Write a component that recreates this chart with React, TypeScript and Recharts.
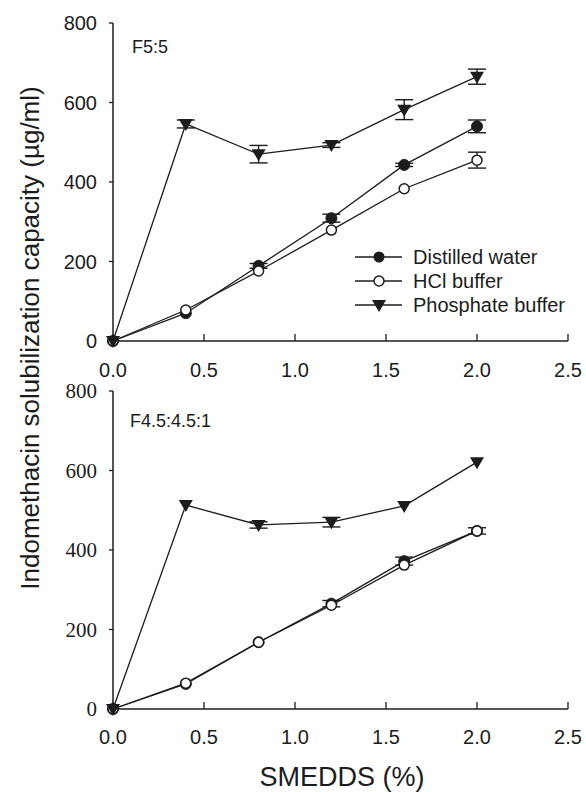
import React from "react";
import { LineChart, Line, XAxis, YAxis, ErrorBar } from "recharts";

// SMEDDS concentration (%) shared by both panels
const smedds = [0, 0.4, 0.8, 1.2, 1.6, 2.0];
const xTicks = [0, 0.5, 1.0, 1.5, 2.0, 2.5];
const yTicks = [0, 200, 400, 600, 800];
const seriesNames = ["Distilled water", "HCl buffer", "Phosphate buffer"];

// panel F5:5
const topWater = [0, 70, 189, 309, 443, 540];
const topHcl = [0, 78, 176, 279, 383, 455];
const topPhos = [0, 546, 470, 493, 582, 665];
const topWaterErr = [0, 0, 6, 10, 4, 16];
const topHclErr = [0, 0, 0, 0, 0, 20];
const topPhosErr = [0, 10, 22, 6, 25, 19];

// panel F4.5:4.5:1
const botWater = [0, 63, 168, 265, 372, 448];
const botHcl = [0, 65, 168, 261, 362, 448];
const botPhos = [0, 513, 463, 470, 511, 621];
const botWaterErr = [0, 0, 0, 8, 10, 0];
const botHclErr = [0, 0, 0, 0, 0, 8];
const botPhosErr = [0, 0, 8, 12, 0, 0];

const SANS = "'Liberation Sans', Arial, sans-serif";
const SERIF = "'Liberation Serif', 'Times New Roman', serif";
const INK = "#1c1c1c";

const rows = (w: number[], h: number[], p: number[], we: number[], he: number[], pe: number[]) =>
  smedds.map((x, i) => ({ x, water: w[i], hcl: h[i], phos: p[i], waterErr: we[i], hclErr: he[i], phosErr: pe[i] }));

const topData = rows(topWater, topHcl, topPhos, topWaterErr, topHclErr, topPhosErr);
const botData = rows(botWater, botHcl, botPhos, botWaterErr, botHclErr, botPhosErr);

const FilledDot = (p: any) => (p.cx == null ? null : <circle key={p.index} cx={p.cx} cy={p.cy} r={5.5} fill={INK} stroke={INK} />);
const OpenDot = (p: any) =>
  p.cx == null ? null : <circle key={p.index} cx={p.cx} cy={p.cy} r={5} fill="#fff" stroke={INK} strokeWidth={1.5} />;
const triPath = (cx: number, cy: number) => `M${cx - 7},${cy - 5} L${cx + 7},${cy - 5} L${cx},${cy + 7} Z`;
const TriDot = (p: any) => (p.cx == null ? null : <path key={p.index} d={triPath(p.cx, p.cy)} fill={INK} />);

// x ticks point inward (up), labels below
const XTick = ({ x, y, payload, dy }: any) => (
  <g>
    <line x1={x} x2={x} y1={y} y2={y - 7} stroke={INK} strokeWidth={1.3} />
    <text x={x} y={y + dy} textAnchor="middle" fontFamily={SANS} fontSize={20} fill={INK}>
      {Number(payload.value).toFixed(1)}
    </text>
  </g>
);

// y labels: the font is passed in per panel (sans on top, serif below)
const YTick = ({ x, y, payload, font, size }: any) => (
  <g style={{ fontFamily: font }}>
    <text x={x} y={y + 7} textAnchor="end" fontFamily={font} style={{ fontFamily: font }} fontSize={size} fill={INK}>
      {payload.value}
    </text>
  </g>
);

const LegendBox = () => (
  <g transform="translate(350,245)">
    {seriesNames.map((name, i) => (
      <g key={name} transform={`translate(0,${i * 24})`}>
        <line x1={5} x2={52} y1={12} y2={12} stroke={INK} strokeWidth={1.3} />
        {i === 0 && <circle cx={29} cy={12} r={5.5} fill={INK} />}
        {i === 1 && <circle cx={29} cy={12} r={5} fill="#fff" stroke={INK} strokeWidth={1.5} />}
        {i === 2 && <path d={triPath(29, 12)} fill={INK} />}
        <text x={63} y={19} fontFamily={SANS} fontSize={20} fill={INK}>
          {name}
        </text>
      </g>
    ))}
  </g>
);

function Panel({ id, data, yFont, yFontSize, top, marginTop, xHeight, labelDy }: any) {
  return (
    <div style={{ position: "absolute", left: 0, top }}>
      <LineChart
        id={id}
        width={586}
        height={385}
        data={data}
        margin={{ top: marginTop, right: 18, left: 0, bottom: 0 }}
      >
        <XAxis
          dataKey="x"
          type="number"
          domain={[0, 2.5]}
          ticks={xTicks}
          interval={0}
          height={xHeight}
          tickSize={0}
          tickMargin={0}
          tickLine={false}
          axisLine={{ stroke: INK, strokeWidth: 1.5 }}
          tick={(p: any) => <XTick {...p} dy={labelDy} />}
        />
        <YAxis
          type="number"
          domain={[0, 800]}
          ticks={yTicks}
          interval={0}
          width={113}
          tickSize={4}
          tickMargin={12}
          tickLine={{ stroke: INK, strokeWidth: 1.3 }}
          axisLine={{ stroke: INK, strokeWidth: 1.5 }}
          tick={<YTick font={yFont} size={yFontSize} />}
        />
        <Line dataKey="water" name={seriesNames[0]} stroke={INK} strokeWidth={1.3} dot={FilledDot} isAnimationActive={false}>
          <ErrorBar dataKey="waterErr" width={9} stroke={INK} strokeWidth={1.4} />
        </Line>
        <Line dataKey="hcl" name={seriesNames[1]} stroke={INK} strokeWidth={1.3} dot={OpenDot} isAnimationActive={false}>
          <ErrorBar dataKey="hclErr" width={9} stroke={INK} strokeWidth={1.4} />
        </Line>
        <Line dataKey="phos" name={seriesNames[2]} stroke={INK} strokeWidth={1.3} dot={TriDot} isAnimationActive={false}>
          <ErrorBar dataKey="phosErr" width={9} stroke={INK} strokeWidth={1.4} />
        </Line>
      </LineChart>
    </div>
  );
}

export default function App() {
  return (
    <div style={{ position: "absolute", left: 0, top: 0, width: 586, height: 792, background: "#fff", overflow: "hidden" }}>
      <Panel id="panel-top" data={topData} yFont={SANS} yFontSize={20} top={0} marginTop={23} xHeight={44} labelDy={36} />
      <Panel id="panel-bottom" data={botData} yFont={SERIF} yFontSize={21} top={370} marginTop={21} xHeight={46} labelDy={35} />
      <svg width={586} height={792} style={{ position: "absolute", left: 0, top: 0, pointerEvents: "none" }}>
        <LegendBox />
        <text x={132} y={53} fontFamily={SANS} fontSize={18} fill={INK}>F5:5</text>
        <text x={130} y={427} fontFamily={SANS} fontSize={18} fill={INK}>F4.5:4.5:1</text>
        <text x={342} y={786} textAnchor="middle" fontFamily={SANS} fontSize={27} fill={INK}>SMEDDS (%)</text>
        <text
          transform="translate(39,338) rotate(-90)"
          textAnchor="middle"
          fontFamily={SANS}
          fontSize={26}
          fill={INK}
        >
          Indomethacin solubilization capacity (µg/ml)
        </text>
      </svg>
    </div>
  );
}
